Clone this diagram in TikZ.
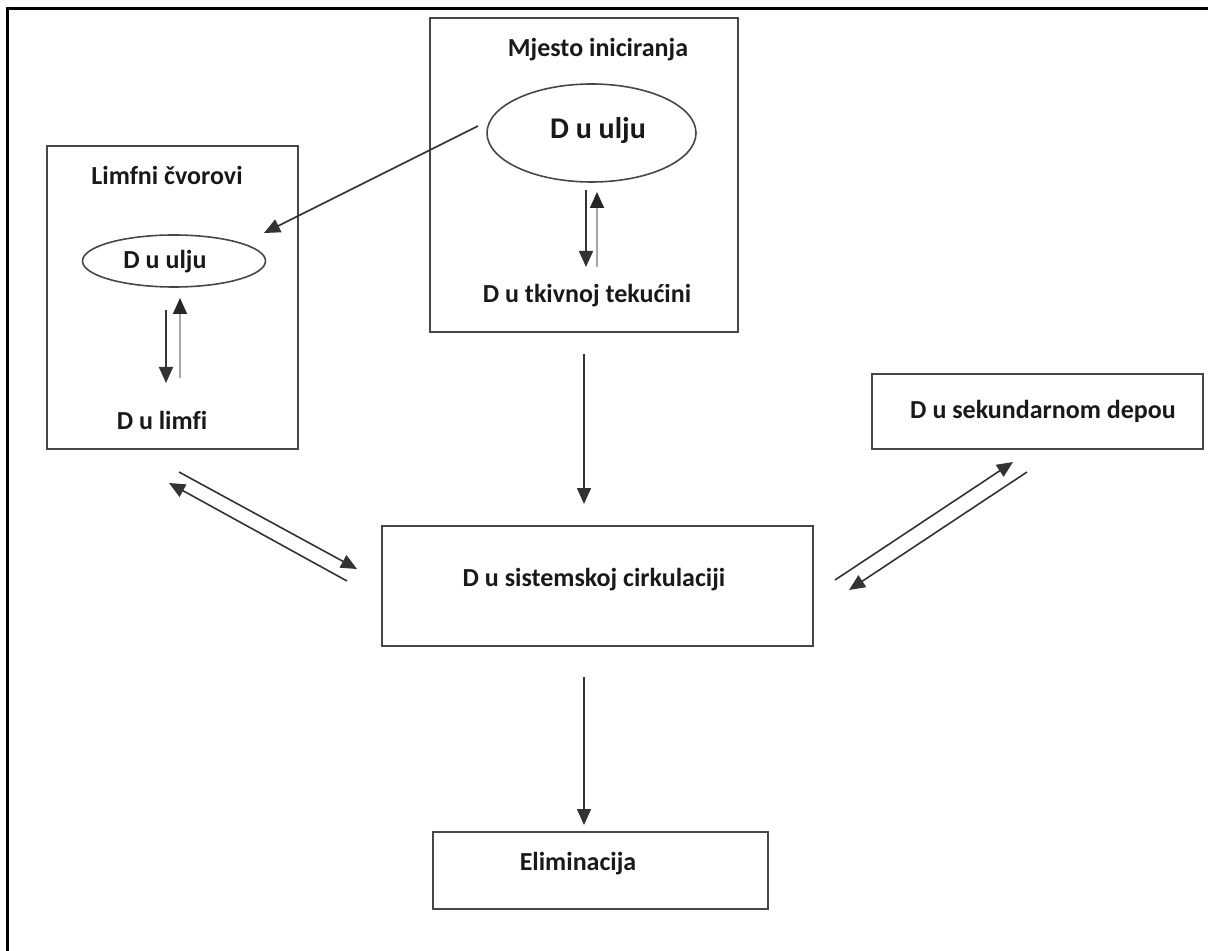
\documentclass[tikz,border=0pt]{standalone}
\usepackage{fontspec}
\setmainfont{Carlito}[Ligatures=NoCommon]
\usetikzlibrary{arrows.meta,shapes.geometric,calc}
\begin{document}
\begin{tikzpicture}[x=0.5pt,y=-0.5pt,
  box/.style={draw=black!72,line width=1pt,rectangle,inner sep=0pt},
  oval/.style={draw=black!72,line width=0.8pt,ellipse,inner sep=0pt},
  lbl/.style={inner sep=0pt,font=\fontsize{13}{15}\selectfont\bfseries,text=black!90},
  arr/.style={draw=black!80,line width=0.8pt,-{Triangle[length=8pt,width=7pt]}},
  garr/.style={draw=black!35,line width=0.8pt,-{Triangle[length=8pt,width=7pt,color=black!85]}}]
\useasboundingbox (0,0) rectangle (1208,951);
% outer frame (top and left only)
\coordinate (fTL) at (7.5,9);
\coordinate (fTR) at (1208,9);
\coordinate (fBL) at (7.5,951);
\draw[line width=1.5pt,black] (fTR) -- (fTL) -- (fBL);

% boxes
\node[box,minimum width=154pt,minimum height=157pt] (mj) at (584,175) {};
\node[box,minimum width=125.5pt,minimum height=151.5pt] (lf) at (172.5,297.5) {};
\node[box,minimum width=215.5pt,minimum height=60pt] (sys) at (597.5,586) {};
\node[box,minimum width=165.5pt,minimum height=37.5pt] (sek) at (1037.5,411.5) {};
\node[box,minimum width=167.5pt,minimum height=38.5pt] (eli) at (600.5,870.5) {};

% ellipses
\node[oval,minimum width=104.5pt,minimum height=49pt] (e1) at (591.5,133) {};
\node[oval,minimum width=91.5pt,minimum height=26pt] (e2) at (174,261) {};

% texts
\node[lbl] (tmj) at (598,50) {Mjesto iniciranja};
\node[lbl,font=\fontsize{15}{17}\selectfont\bfseries] (te1) at (598,131) {D u ulju};
\node[lbl] (ttk) at (587,296) {D u tkivnoj tekućini};
\node[lbl] (tlf) at (167,175) {Limfni čvorovi};
\node[lbl] (te2) at (165,262) {D u ulju};
\node[lbl] (tli) at (162,420) {D u limfi};
\node[lbl] (tsys) at (594,580) {D u sistemskoj cirkulaciji};
\node[lbl] (tsek) at (1043,411) {D u sekundarnom depou};
\node[lbl] (teli) at (578,864) {Eliminacija};

% inner arrows, Mjesto iniciranja
\coordinate (m1a) at (586,190);
\coordinate (m1b) at (586,267);
\coordinate (m2a) at (597,267);
\coordinate (m2b) at (597,192);
\draw[arr] (m1a) -- (m1b);
\draw[garr] (m2a) -- (m2b);

% inner arrows, Limfni cvorovi
\coordinate (l1a) at (166,310);
\coordinate (l1b) at (166,383);
\coordinate (l2a) at (180,378);
\coordinate (l2b) at (180,298);
\draw[arr] (l1a) -- (l1b);
\draw[garr] (l2a) -- (l2b);

% ellipse (Mjesto) to Limfni
\coordinate (dA) at (478,126);
\coordinate (dB) at (264,233);
\draw[arr] (dA) -- (dB);

% Mjesto to sistemska
\draw[arr,shorten <=10.5pt,shorten >=10.5pt] (mj.south) -- (mj.south |- sys.north);

% sistemska to eliminacija
\draw[arr,shorten <=15pt,shorten >=3pt] (mj.south |- sys.south) -- (mj.south |- eli.north);

% Limfni <-> sistemska
\coordinate (la1) at (179,472);
\coordinate (la2) at (357,569);
\coordinate (lb1) at (347,581);
\coordinate (lb2) at (169,483);
\draw[arr] (la1) -- (la2);
\draw[arr] (lb1) -- (lb2);

% sistemska <-> sekundarni depo
\coordinate (ra1) at (835,580);
\coordinate (ra2) at (1013,462);
\coordinate (rb1) at (1027,472);
\coordinate (rb2) at (849,590);
\draw[arr] (ra1) -- (ra2);
\draw[arr] (rb1) -- (rb2);
\end{tikzpicture}
\end{document}
